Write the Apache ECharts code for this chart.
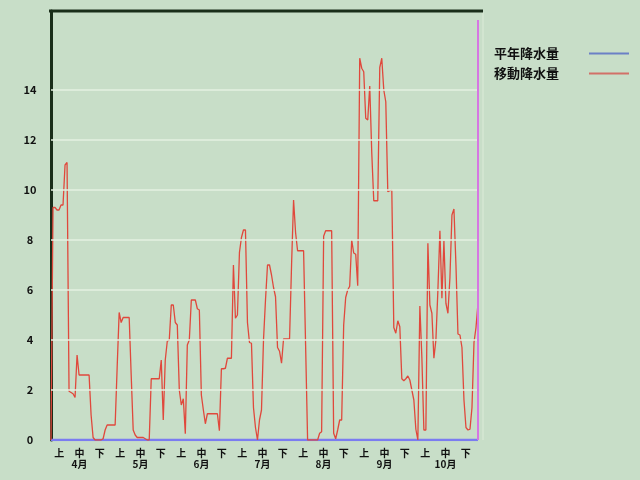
<!DOCTYPE html>
<html>
<head>
<meta charset="utf-8">
<script src="https://cdn.jsdelivr.net/npm/echarts@6/dist/echarts.min.js"></script>
<style>
html,body{margin:0;padding:0;background:#c8dec8;}
#c{width:640px;height:480px;}
</style>
</head>
<body>
<div id="c"></div>
<script>
// --- data ---
var months = ['4月','5月','6月','7月','8月','9月','10月'];
var dekads = ['上','中','下'];
var yTicks = [0, 2, 4, 6, 8, 10, 12, 14];
var gridVals = [2, 4, 6, 8, 10, 12, 14];
var seriesNames = ['平年降水量', '移動降水量'];

// 移動降水量 (daily, Apr 1 - Oct 31)
var moving = [
  0, 9.3, 9.3, 9.2, 9.2, 9.4, 9.4, 11.0, 11.1, 1.95,
  1.9, 1.85, 1.7, 3.4, 2.6, 2.6, 2.6, 2.6, 2.6, 2.6,
  1.0, 0.1, 0, 0, 0, 0, 0.05, 0.4, 0.6, 0.6,
  0.6, 0.6, 0.6, 2.9, 5.1, 4.7, 4.9, 4.9, 4.9, 4.9,
  2.6, 0.4, 0.2, 0.1, 0.1, 0.1, 0.1, 0.05, 0, 0,
  2.45, 2.45, 2.45, 2.45, 2.45, 3.2, 0.8, 3.2, 3.95, 4.0,
  5.4, 5.4, 4.7, 4.6, 2.0, 1.4, 1.65, 0.25, 3.8, 4.0,
  5.6, 5.6, 5.6, 5.25, 5.2, 1.8, 1.2, 0.65, 1.05, 1.05,
  1.05, 1.05, 1.05, 1.05, 0.37, 2.85, 2.85, 2.87, 3.27, 3.27,
  3.27, 7.0, 4.87, 5.0, 7.5, 8.1, 8.4, 8.4, 4.7, 3.9,
  3.87, 1.3, 0.5, 0, 0.8, 1.2, 4.0, 5.6, 7.0, 7.0,
  6.6, 6.1, 5.73, 3.7, 3.55, 3.07, 4.04, 4.04, 4.04, 4.05,
  7.0, 9.6, 8.3, 7.57, 7.57, 7.57, 7.57, 3.8, 0, 0,
  0, 0, 0, 0, 0.27, 0.33, 8.15, 8.37, 8.37, 8.37,
  8.37, 0.27, 0.05, 0.4, 0.8, 0.8, 4.6, 5.7, 6.0, 6.15,
  8.0, 7.48, 7.43, 6.17, 15.27, 14.87, 14.73, 12.87, 12.8, 14.16,
  11.5, 9.57, 9.57, 9.57, 14.9, 15.27, 14.0, 13.53, 9.93, 9.97,
  10.0, 4.5, 4.27, 4.77, 4.53, 2.45, 2.37, 2.45, 2.56, 2.4,
  2.0, 1.6, 0.43, 0, 5.36, 3.3, 0.4, 0.4, 7.87, 5.4,
  5.07, 3.27, 4.0, 6.0, 8.37, 5.67, 7.97, 5.47, 5.07, 6.5,
  9.0, 9.24, 7.0, 4.24, 4.2, 3.7, 1.6, 0.5, 0.4, 0.43,
  1.3, 3.9, 4.5, 5.47
];

// 平年降水量 (daily, Apr 1 - Oct 31)
var normal = [
  0,0,0,0,0,0,0,0,0,0, 0,0,0,0,0,0,0,0,0,0, 0,0,0,0,0,0,0,0,0,0,
  0,0,0,0,0,0,0,0,0,0, 0,0,0,0,0,0,0,0,0,0, 0,0,0,0,0,0,0,0,0,0,
  0,0,0,0,0,0,0,0,0,0, 0,0,0,0,0,0,0,0,0,0, 0,0,0,0,0,0,0,0,0,0,
  0,0,0,0,0,0,0,0,0,0, 0,0,0,0,0,0,0,0,0,0, 0,0,0,0,0,0,0,0,0,0,
  0,0,0,0,0,0,0,0,0,0, 0,0,0,0,0,0,0,0,0,0, 0,0,0,0,0,0,0,0,0,0,
  0,0,0,0,0,0,0,0,0,0, 0,0,0,0,0,0,0,0,0,0, 0,0,0,0,0,0,0,0,0,0,
  0,0,0,0,0,0,0,0,0,0, 0,0,0,0,0,0,0,0,0,0, 0,0,0,0,0,0,0,0,0,0,
  0,0,0,0
];
var rightMarkTop = 16.8;

// --- build ---
var days = moving.map(function(_, i){ return 'd' + i; });
var dekadCats = [];
months.forEach(function(m){ dekads.forEach(function(d){ dekadCats.push(m + '|' + d); }); });

var font = '"Noto Sans CJK JP", "Noto Sans", sans-serif';
var chart = echarts.init(document.getElementById('c'));
chart.setOption({
  backgroundColor: '#c8dec8',
  animation: false,
  grid: { left: 51, right: 162, top: 11, bottom: 40 },
  legend: {
    orient: 'vertical',
    left: 489, top: 42,
    align: 'right',
    itemGap: 7,
    itemWidth: 40, itemHeight: 2,
    icon: 'rect',
    formatter: '{a|{name}}',
    textStyle: {
      fontFamily: font, fontSize: 13, fontWeight: 'bold', color: '#111',
      rich: { a: { width: 90, align: 'left', fontFamily: font, fontSize: 13, fontWeight: 'bold', color: '#111', lineHeight: 14 } }
    },
    data: [
      { name: seriesNames[0], itemStyle: { color: '#6b80c6' } },
      { name: seriesNames[1], itemStyle: { color: '#d27068' } }
    ]
  },
  xAxis: [
    { type: 'category', data: days, boundaryGap: false, show: false, gridIndex: 0 },
    {
      type: 'category', data: dekadCats, boundaryGap: true, position: 'bottom', gridIndex: 0,
      axisLine: { show: false }, axisTick: { show: false },
      axisLabel: {
        interval: 0, margin: 8, padding: [0, 4, 0, 0],
        fontFamily: font, fontSize: 10, lineHeight: 11, color: '#111', fontWeight: 'bold',
        formatter: function(v){
          var p = v.split('|');
          return p[1] === '中' ? p[1] + '\n' + p[0] : p[1];
        }
      }
    }
  ],
  yAxis: {
    type: 'value', min: 0, max: 17.16, interval: 2,
    axisLine: { show: true, lineStyle: { color: '#1a2e1a', width: 3 } },
    axisTick: { show: false },
    splitLine: { show: false },
    axisLabel: {
      margin: 21, align: 'center',
      fontFamily: font, fontSize: 11, fontWeight: 'bold', color: '#111',
      formatter: function(v){ return yTicks.indexOf(v) >= 0 ? String(v) : ''; }
    }
  },
  graphic: [
    { type: 'line', shape: { x1: 49, y1: 11, x2: 483, y2: 11 }, style: { stroke: '#1a2e1a', lineWidth: 3 }, z: 10 },
    { type: 'line', shape: { x1: 483, y1: 12, x2: 483, y2: 440 }, style: { stroke: '#dcebd8', lineWidth: 1 }, z: 1 }
  ],
  series: [
    {
      name: seriesNames[0], type: 'line', xAxisIndex: 0, data: normal,
      symbol: 'none', z: 3,
      lineStyle: { color: '#7b7cf0', width: 2.5 }, itemStyle: { color: '#7b7cf0' },
      markLine: {
        silent: true, symbol: 'none', label: { show: false },
        lineStyle: { color: '#e4f0e2', width: 1.5, type: 'solid' },
        data: gridVals.map(function(v){ return { yAxis: v }; })
      }
    },
    {
      name: seriesNames[1], type: 'line', xAxisIndex: 0, data: moving,
      symbol: 'none', z: 4,
      lineStyle: { color: '#e0483c', width: 1.3 }, itemStyle: { color: '#e0483c' },
      markLine: {
        silent: true, symbol: 'none', label: { show: false },
        lineStyle: { color: '#d677e2', width: 2, type: 'solid' },
        data: [[ { coord: [days.length - 1, 0] }, { coord: [days.length - 1, rightMarkTop] } ]]
      }
    }
  ]
});
</script>
</body>
</html>
